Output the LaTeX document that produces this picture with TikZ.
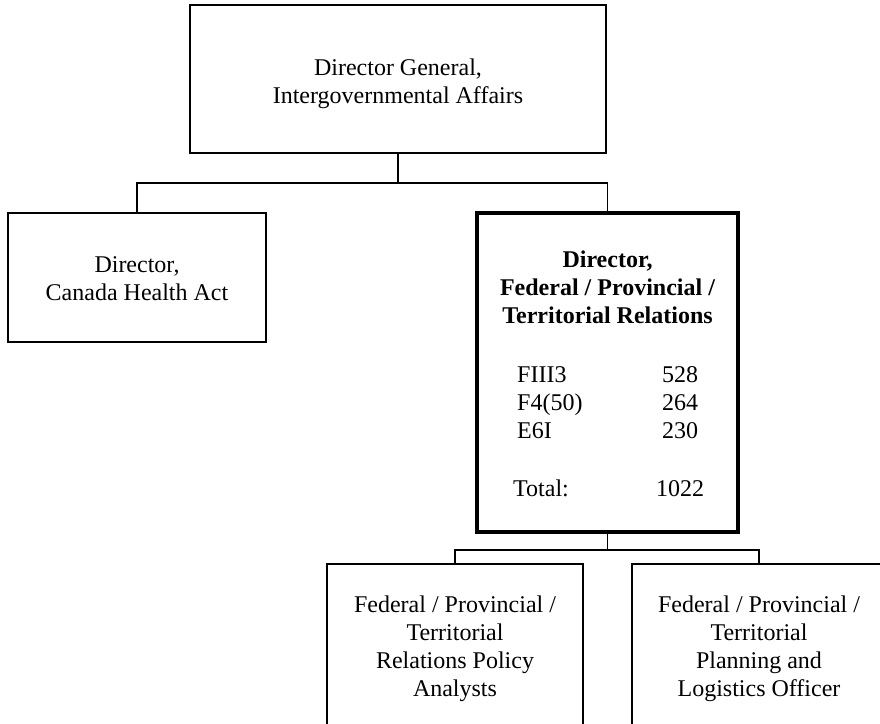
\documentclass[tikz,border=0pt]{standalone}
\usepackage{fontspec}
\setmainfont{Liberation Serif}
% centred lines on a fixed 28pt pitch
\newcommand{\boxlines}[1]{\begin{tabular}{@{}c@{}}#1\end{tabular}}
\begin{document}
\begin{tikzpicture}[x=1pt, y=-1pt,
  box/.style={draw, line width=1.8pt, inner sep=0pt},
  keybox/.style={draw, line width=4.6pt, inner sep=0pt},
  boxtext/.style={inner sep=0pt, font=\fontsize{24}{28}\selectfont},
  cell/.style={inner sep=0pt, font=\fontsize{24}{28}\selectfont},
  link/.style={line width=1.8pt}]
  \useasboundingbox (0,0) rectangle (880,723);
  \clip (0,0) rectangle (880,723);

  % boxes
  \node[box, minimum width=416pt, minimum height=148pt] (dg) at (398,79) {};
  \node[box, minimum width=258pt, minimum height=129pt] (cha) at (137,277.5) {};
  \node[keybox, minimum width=261pt, minimum height=319pt] (fpt) at (607.5,372.5) {};
  \node[box, minimum width=256pt, minimum height=176pt] (pol) at (455,652) {};
  \node[box, minimum width=254pt, minimum height=176pt] (plo) at (759,652) {};

  % box texts
  \node[boxtext] (dgtext) at (398,83.4)
    {\boxlines{Director General,\\Intergovernmental Affairs}};
  \node[boxtext] (chatext) at (137,280.4)
    {\boxlines{Director,\\Canada Health Act}};
  \node[boxtext, font=\fontsize{24}{28}\selectfont\bfseries] (fpttext) at (607.5,289.4)
    {\boxlines{Director,\\Federal / Provincial /\\Territorial Relations}};
  \node[boxtext] (poltext) at (455,648.4)
    {\boxlines{Federal / Provincial /\\Territorial\\Relations Policy\\Analysts}};
  \node[boxtext] (plotext) at (759,648.4)
    {\boxlines{Federal / Provincial /\\Territorial\\Planning and\\Logistics Officer}};

  % classification table
  \node[cell, anchor=base west] (c1) at (517,382) {FIII3};
  \node[cell, anchor=base west] (c2) at (517,410) {F4(50)};
  \node[cell, anchor=base west] (c3) at (517,438) {E6I};
  \node[cell, anchor=base west] (ct) at (513,496) {Total:};
  \node[cell, anchor=base] (v1) at (680,382) {528};
  \node[cell, anchor=base] (v2) at (680,410) {264};
  \node[cell, anchor=base] (v3) at (680,438) {230};
  \node[cell, anchor=base] (vt) at (680,496) {1022};

  % reporting lines
  \draw[link] (dg.south) -- ++(0,29) coordinate (bus1);
  \draw[link] (cha.north) |- (bus1) -| (fpt.north);
  \draw[link] (fpt.south) -- ++(0,16) coordinate (bus2);
  \draw[link] (pol.north) |- (bus2) -| (plo.north);
\end{tikzpicture}
\end{document}
